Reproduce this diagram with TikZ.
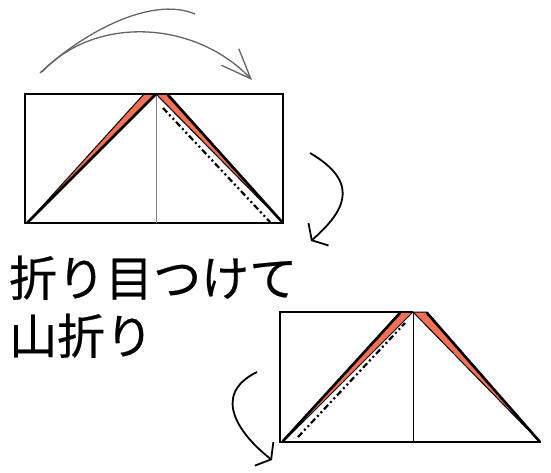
\documentclass[tikz,border=0pt]{standalone}
\usepackage{fontspec}
\newfontfamily\jpfont[FakeBold=0.4]{Noto Sans CJK JP}
\definecolor{flaporange}{RGB}{242,112,84}
\definecolor{arrowgray}{RGB}{100,100,100}
\usepackage{tikz}
\usetikzlibrary{arrows.meta, positioning}

\begin{document}
\begin{tikzpicture}[
  x=1pt, y=-1pt,
  paper/.style={draw, line width=2.8pt, line join=miter},
  crease/.style={line width=0.9pt},
  flap/.style={fill=flaporange, draw, line width=1pt, line join=round},
  edge/.style={line width=2.6pt, line cap=round},
  foldline/.style={line width=2.2pt, dash pattern=on 6pt off 3pt on 2pt off 3pt on 2pt off 3pt},
  turn/.style={line width=1.8pt, -{Straight Barb[length=9pt, width=30pt, line width=1.8pt]}},
  label/.style={font=\jpfont\fontsize{48}{58}\selectfont, inner sep=0pt, anchor=base west}
]
  \useasboundingbox (0,0) rectangle (551,472);
  % first step
  \draw[flap] (144,94) -- (156,94) -- (27,223) -- cycle;
  \draw[flap] (156,94) -- (168,94) -- (283,223) -- cycle;
  \draw[paper] (25,94) rectangle (283,223);
  \draw[crease, gray] (156,94) -- (156,223);
  \draw[edge] (27,223) -- (156,94);
  \draw[edge] (168,95) -- (283,223);
  \draw[foldline] (163,108) -- (270,222);
  % turn over
  \draw[arrowgray, line width=1.3pt] (40,73) .. controls (80,35) and (150,-5) .. (195,14);
  \draw[arrowgray, line width=1.3pt, -{Straight Barb[length=30pt, width=24pt, line width=1.3pt]}] (42,72) .. controls (95,15) and (195,20) .. (252,80);
  \draw[turn] (310,153) .. controls (365,185) and (340,215) .. (311,241);
  % label
  \node[label] (txt1) at (9,296) {折り目つけて};
  \node[label] (txt2) at (9,354) {山折り};
  % second step
  \draw[flap] (400,312) -- (413,312) -- (283,442) -- cycle;
  \draw[flap] (413,312) -- (427,312) -- (540,442) -- cycle;
  \draw[paper] (413,312) -- (280,312) -- (280,442) -- (540,442);
  \draw[crease] (413,312) -- (413,442);
  \draw[edge] (283,441) -- (400,313);
  \draw[edge] (427,313) -- (540,442);
  \draw[foldline] (298,437) -- (405,323);
  \draw[turn] (257,372) .. controls (210,395) and (240,435) .. (272,460);
\end{tikzpicture}
\end{document}
